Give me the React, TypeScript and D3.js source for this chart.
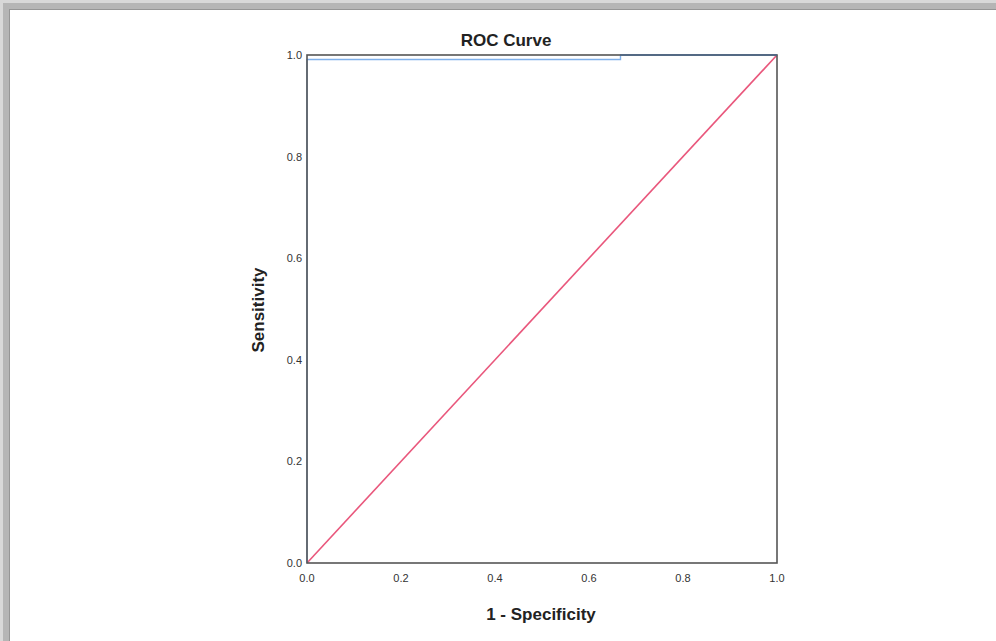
import * as d3 from "d3";

// ROC curve points
const fpr = [0, 0, 0.667, 0.667, 1];
const tpr = [0, 0.991, 0.991, 1, 1];
// reference diagonal
const refX = [0, 1];
const refY = [0, 1];
const tickValues = [0, 0.2, 0.4, 0.6, 0.8, 1.0];

const width = 996;
const height = 641;
const plot = { left: 307, right: 777, top: 55, bottom: 563 };

export default function App() {
  const x = d3.scaleLinear().domain([0, 1]).range([plot.left, plot.right]);
  const y = d3.scaleLinear().domain([0, 1]).range([plot.bottom, plot.top]);

  const line = d3
    .line<number>()
    .x((d) => x(d))
    .y((d, i) => y(tpr[i]));
  const refLine = d3
    .line<number>()
    .x((d) => x(d))
    .y((d, i) => y(refY[i]));

  const font = "'Liberation Sans', Arial, sans-serif";

  return (
    <svg
      width={width}
      height={height}
      style={{ position: "absolute", left: 0, top: 0, background: "#fff" }}
    >
      {/* screenshot frame shadow */}
      <rect x={0} y={0} width={width} height={10} fill="#b5b5b5" />
      <rect x={0} y={0} width={10} height={height} fill="#b5b5b5" />
      <rect x={0} y={0} width={width} height={3} fill="#d8d8d8" />
      <rect x={0} y={0} width={3} height={height} fill="#d8d8d8" />
      <rect x={9} y={9} width={width - 9} height={1} fill="#959595" />
      <rect x={9} y={9} width={1} height={height - 9} fill="#959595" />

      <text
        x={506}
        y={46}
        textAnchor="middle"
        fontFamily={font}
        fontSize={17}
        fontWeight="bold"
        fill="#222"
      >
        ROC Curve
      </text>

      <path
        d={refLine(refX) ?? ""}
        fill="none"
        stroke="#e9577c"
        strokeWidth={1.6}
      />
      <path
        d={line(fpr) ?? ""}
        fill="none"
        stroke="#7fb0ea"
        strokeWidth={1.4}
      />

      {/* plot frame */}
      <rect
        x={plot.left}
        y={plot.top}
        width={plot.right - plot.left}
        height={plot.bottom - plot.top}
        fill="none"
        stroke="#555"
        strokeWidth={1.6}
      />
      <line
        x1={x(0.667)}
        x2={x(1)}
        y1={y(1)}
        y2={y(1)}
        stroke="#4f6a8a"
        strokeWidth={1.6}
      />

      {tickValues.map((t) => (
        <text
          key={"x" + t}
          x={x(t)}
          y={plot.bottom + 19}
          textAnchor="middle"
          fontFamily={font}
          fontSize={11}
          fill="#333"
        >
          {d3.format(".1f")(t)}
        </text>
      ))}
      {tickValues.map((t) => (
        <text
          key={"y" + t}
          x={plot.left - 5}
          y={y(t) + 4}
          textAnchor="end"
          fontFamily={font}
          fontSize={11}
          fill="#333"
        >
          {d3.format(".1f")(t)}
        </text>
      ))}

      <text
        x={541}
        y={620}
        textAnchor="middle"
        fontFamily={font}
        fontSize={17}
        fontWeight="bold"
        fill="#222"
      >
        1 - Specificity
      </text>
      <text
        transform={`translate(264, 310) rotate(-90)`}
        textAnchor="middle"
        fontFamily={font}
        fontSize={17}
        fontWeight="bold"
        fill="#222"
      >
        Sensitivity
      </text>
    </svg>
  );
}
